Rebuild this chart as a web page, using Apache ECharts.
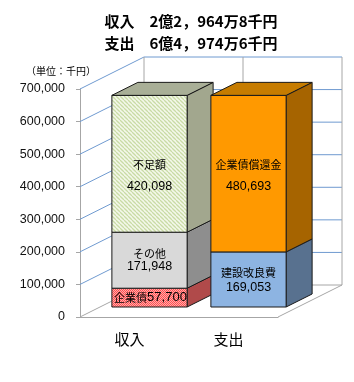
<!DOCTYPE html>
<html>
<head>
<meta charset="utf-8">
<script src="https://cdn.jsdelivr.net/npm/echarts@6/dist/echarts.min.js"></script>
<style>
  html, body { margin: 0; padding: 0; background: #fff; }
  #chart { width: 354px; height: 382px; }
</style>
</head>
<body>
<div id="chart"></div>
<script>
// data (thousand yen)
const categories = ['収入', '支出'];
const incomeNames = ['企業債', 'その他', '不足額'];
const incomeValues = [57700, 171948, 420098];
const expenseNames = ['建設改良費', '企業債償還金'];
const expenseValues = [169053, 480693];
const yTicks = [0, 100000, 200000, 300000, 400000, 500000, 600000, 700000];
const titleLines = ['収入　2億2，964万8千円', '支出　6億4，974万6千円'];
const unitLabel = '（単位：千円）';

// 3D look: full depth of the box, bar front offset and bar depth (px)
const DEPTH = [64, -32];
const BAR_FRONT = [20, -10];
const BAR_DEPTH = [26, -13];

function makePattern(size, draw) {
  const c = document.createElement('canvas');
  c.width = size; c.height = size;
  draw(c.getContext('2d'), size);
  return { image: c, repeat: 'repeat' };
}
const hatch = makePattern(4, (ctx, s) => {
  ctx.fillStyle = '#f4f8ea';
  ctx.fillRect(0, 0, s, s);
  ctx.strokeStyle = '#c9dba5';
  ctx.lineWidth = 1.3;
  [-s, 0, s].forEach(k => {
    ctx.beginPath(); ctx.moveTo(k, 0); ctx.lineTo(k + s, s); ctx.stroke();
  });
});
const checker = makePattern(2, (ctx) => {
  ctx.fillStyle = '#ffaaaa'; ctx.fillRect(0, 0, 2, 2);
  ctx.fillStyle = '#ff5050'; ctx.fillRect(0, 0, 1, 1); ctx.fillRect(1, 1, 1, 1);
});

// look of each segment
const segStyle = {
  '企業債': { front: checker, side: '#b04a4a', top: '#c86060', inline: true },
  'その他': { front: '#d9d9d9', side: '#8e8e8e', top: '#b0b0b0', lh: 12, dy: 0 },
  '不足額': { front: hatch, side: '#a2a78e', top: '#a9af97', lh: 21, dy: 12 },
  '建設改良費': { front: '#8db4e2', side: '#58718f', top: '#6f8db0', lh: 15, dy: 1 },
  '企業債償還金': { front: '#ff9900', side: '#a66400', top: '#c67c00', lh: 22, dy: 2 }
};

// stacked segments: [category, base, top, name]
const segments = [];
[[incomeNames, incomeValues], [expenseNames, expenseValues]].forEach((pair, ci) => {
  let acc = 0;
  pair[1].forEach((v, i) => {
    segments.push({ value: [ci, acc, acc + v], name: pair[0][i], last: i === pair[1].length - 1, raw: v });
    acc += v;
  });
});

const fmt = v => v.toLocaleString('en-US');

function renderBar(params, api) {
  const seg = segments[params.dataIndex];
  const st = segStyle[seg.name];
  const pB = api.coord([api.value(0), api.value(1)]);
  const pT = api.coord([api.value(0), api.value(2)]);
  const bw = api.size([1, 0])[0] * 0.76;
  const x0 = pB[0] + BAR_FRONT[0] - bw / 2, x1 = x0 + bw;
  const yb = pB[1] + BAR_FRONT[1], yt = pT[1] + BAR_FRONT[1];
  const dx = BAR_DEPTH[0], dy = BAR_DEPTH[1];
  const line = { stroke: '#1a1a1a', lineWidth: 1 };
  const children = [
    { type: 'polygon', shape: { points: [[x1, yb], [x1 + dx, yb + dy], [x1 + dx, yt + dy], [x1, yt]] },
      style: Object.assign({ fill: st.side }, line) },
    { type: 'rect', shape: { x: x0, y: yt, width: bw, height: yb - yt },
      style: Object.assign({ fill: st.front }, line) }
  ];
  if (seg.last) {
    children.push({ type: 'polygon', shape: { points: [[x0, yt], [x1, yt], [x1 + dx, yt + dy], [x0 + dx, yt + dy]] },
      style: Object.assign({ fill: st.top }, line) });
  }
  const cx = (x0 + x1) / 2, cy = (yt + yb) / 2;
  if (st.inline) {
    children.push({ type: 'text', x: cx + 1, y: cy, style: {
      text: '{n|' + seg.name + '}{v|' + fmt(seg.raw) + '}', align: 'center', verticalAlign: 'middle',
      rich: { n: { fontSize: 11, fontFamily: 'Noto Sans CJK JP', fill: '#000' },
              v: { fontSize: 13, fontFamily: 'Liberation Sans', fill: '#000' } } } });
  } else {
    children.push({ type: 'text', x: cx, y: cy + st.dy, style: {
      text: '{n|' + seg.name + '}\n{v|' + fmt(seg.raw) + '}', align: 'center', verticalAlign: 'middle',
      rich: { n: { fontSize: 11, fontFamily: 'Noto Sans CJK JP', fill: '#000', lineHeight: st.lh },
              v: { fontSize: 12.5, fontFamily: 'Liberation Sans', fill: '#000', lineHeight: st.lh } } } });
  }
  return { type: 'group', children: children };
}

// gridlines on the left wall and back wall
function renderGrid(params, api) {
  const cs = params.coordSys;
  const p = api.coord([0, api.value(0)]);
  const xl = cs.x, xr = cs.x + cs.width;
  const y = p[1];
  const color = api.value(0) === 0 ? '#a6a6a6' : '#6f9ad0';
  return { type: 'polyline', shape: { points: [[xl, y], [xl + DEPTH[0], y + DEPTH[1]], [xr + DEPTH[0], y + DEPTH[1]]] },
    style: { stroke: color, lineWidth: 1, fill: null } };
}

// back wall verticals and the right floor edge at category boundaries
function renderFrame(params, api) {
  const cs = params.coordSys;
  const band = api.size([1, 0])[0];
  const x = cs.x + api.value(0) * band;
  const y0 = api.coord([0, yTicks[0]])[1];
  const y1 = api.coord([0, yTicks[yTicks.length - 1]])[1];
  const children = [
    { type: 'line', shape: { x1: x + DEPTH[0], y1: y0 + DEPTH[1], x2: x + DEPTH[0], y2: y1 + DEPTH[1] },
      style: { stroke: '#a6a6a6', lineWidth: 1 } }
  ];
  if (api.value(0) === categories.length) {
    children.push({ type: 'line', shape: { x1: x, y1: y0, x2: x + DEPTH[0], y2: y0 + DEPTH[1] },
      style: { stroke: '#a6a6a6', lineWidth: 1 } });
  }
  return { type: 'group', children: children };
}

const chart = echarts.init(document.getElementById('chart'));
chart.setOption({
  animation: false,
  title: {
    text: titleLines.join('\n'),
    left: 186, top: 5, textAlign: 'center',
    textStyle: { fontSize: 15, fontWeight: 'bold', fontFamily: 'Noto Sans CJK JP', color: '#000', lineHeight: 22 }
  },
  graphic: [{
    type: 'text', left: 26, top: 66,
    style: { text: unitLabel, fontSize: 10, fontFamily: 'Noto Sans CJK JP', fill: '#000' }
  }],
  grid: { left: 80, right: 76, top: 89, bottom: 65, containLabel: false },
  xAxis: {
    type: 'category', data: categories,
    axisLine: { lineStyle: { color: '#a6a6a6' } },
    axisTick: { length: 5, lineStyle: { color: '#a6a6a6' } },
    axisLabel: { margin: 15, fontSize: 15, fontFamily: 'Noto Sans CJK JP', color: '#000' }
  },
  yAxis: {
    type: 'value', min: 0, max: 700000, interval: 100000,
    axisLine: { show: true, lineStyle: { color: '#a6a6a6' } },
    axisTick: { show: true, length: 4, lineStyle: { color: '#a6a6a6' } },
    axisLabel: { margin: 15, fontSize: 12.5, fontFamily: 'Liberation Sans', color: '#111', formatter: fmt },
    splitLine: { show: false }
  },
  series: [
    { type: 'custom', name: 'grid', z: 1, silent: true, renderItem: renderGrid,
      data: yTicks.map(v => [v]), encode: { y: 0 } },
    { type: 'custom', name: 'frame', z: 1, silent: true, renderItem: renderFrame,
      data: [0, 1, 2].map(v => [v]) },
    { type: 'custom', name: 'bars', z: 3, renderItem: renderBar,
      data: segments.map(s => s.value), encode: { x: 0, y: [1, 2] } }
  ]
});
</script>
</body>
</html>
